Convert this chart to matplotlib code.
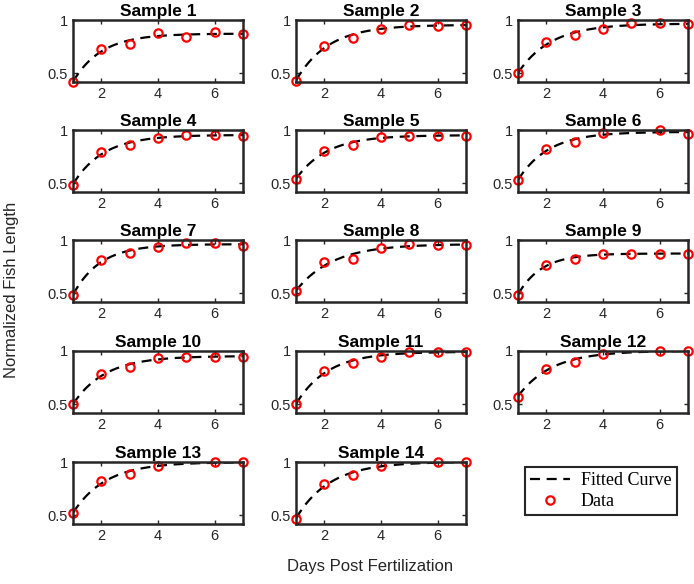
import numpy as np
import matplotlib.pyplot as plt
from matplotlib.lines import Line2D

nan = np.nan
days = np.array([1, 2, 3, 4, 5, 6, 7])

titles = ['Sample %d' % i for i in range(1, 15)]

# normalized lengths per sample (nan = no point shown)
s1 = [0.42, 0.725, 0.775, 0.875, 0.845, 0.885, 0.87]
s2 = [0.43, 0.76, 0.835, 0.915, 0.953, 0.947, 0.953]
s3 = [0.50, 0.794, 0.858, 0.916, 0.968, 0.968, 0.961]
s4 = [0.49, 0.79, 0.857, 0.924, 0.955, 0.955, 0.948]
s5 = [0.54, 0.80, 0.864, 0.933, 0.945, 0.948, 0.948]
s6 = [0.53, 0.82, 0.884, 0.97, nan, 1.0, 0.962]
s7 = [0.485, 0.81, 0.876, 0.936, 0.973, 0.973, 0.942]
s8 = [0.52, 0.79, 0.825, 0.925, 0.963, 0.95, 0.953]
s9 = [0.49, 0.764, 0.824, 0.873, 0.873, 0.873, 0.87]
s10 = [0.50, 0.784, 0.846, 0.932, 0.948, 0.948, 0.948]
s11 = [0.50, 0.815, 0.886, 0.948, 0.994, 0.988, 0.994]
s12 = [0.574, 0.833, 0.90, 0.972, nan, 1.0, 1.0]
s13 = [0.52, 0.82, 0.89, 0.96, nan, 1.0, 1.0]
s14 = [0.47, 0.79, 0.88, 0.96, nan, 1.0, 1.0]
samples = [s1, s2, s3, s4, s5, s6, s7, s8, s9, s10, s11, s12, s13, s14]


def fit_curve(x, y):
    # y = a - b*exp(-c*(x-1)), grid over c, linear least squares for a, b
    ok = ~np.isnan(y)
    x, y = x[ok], y[ok]
    best = None
    for c in np.linspace(0.1, 3, 300):
        A = np.column_stack([np.ones_like(x, dtype=float), -np.exp(-c * (x - 1))])
        coef, *_ = np.linalg.lstsq(A, y, rcond=None)
        err = np.sum((A @ coef - y) ** 2)
        if best is None or err < best[0]:
            best = (err, coef[0], coef[1], c)
    return best[1:]


plt.rcParams['font.family'] = ['Liberation Sans', 'DejaVu Sans']
edge = '#262626'

W, H = 694, 584
fig = plt.figure(figsize=(W / 100, H / 100), dpi=100)

lefts = [73, 296, 518]
tops = [20, 130, 240, 351, 462]
aw, ah = 170, 62

xx = np.linspace(1, 7, 200)
for i, y in enumerate(samples):
    r, c = divmod(i, 3)
    ax = fig.add_axes([lefts[c] / W, 1 - (tops[r] + ah) / H, aw / W, ah / H])
    y = np.array(y, dtype=float)
    a, b, k = fit_curve(days, y)
    ax.plot(xx, a - b * np.exp(-k * (xx - 1)), 'k--', lw=1.6, dashes=(4.5, 3))
    ax.plot(days, y, 'o', mfc='none', mec='red', mew=1.6, ms=6, clip_on=False)
    ax.set_xlim(1, 7)
    ax.set_ylim(0.42, 1)
    ax.set_xticks([2, 4, 6])
    ax.set_yticks([0.5, 1])
    ax.set_yticklabels(['0.5', '1'])
    ax.tick_params(direction='in', top=True, right=True, length=3,
                   width=1, colors=edge, labelsize=10.5, labelcolor='#262626')
    for sp in ax.spines.values():
        sp.set_linewidth(1.8)
        sp.set_color(edge)
    ax.set_title(titles[i], fontsize=12.5, fontweight='bold', pad=3)

handles = [Line2D([], [], color='k', ls='--', lw=1.6, dashes=(4.5, 3)),
           Line2D([], [], ls='none', marker='o', mfc='none', mec='red', mew=1.6, ms=6)]
leg = fig.legend(handles, ['Fitted Curve', 'Data'],
                 loc='upper left', bbox_to_anchor=(516 / W, 1 - 458 / H),
                 prop={'family': 'Liberation Serif', 'size': 13},
                 fancybox=False, edgecolor=edge, framealpha=1,
                 handlelength=2.2, borderpad=0.3, labelspacing=0.2,
                 handletextpad=0.6)
leg.get_frame().set_linewidth(1.5)

fig.text(370 / W, 1 - 566 / H, 'Days Post Fertilization', ha='center', va='center',
         fontsize=12, color='#262626')
fig.text(12 / W, 1 - 290 / H, 'Normalized Fish Length', ha='center', va='center',
         rotation=90, fontsize=12, color='#262626')

fig.savefig('out.png', dpi=100)
